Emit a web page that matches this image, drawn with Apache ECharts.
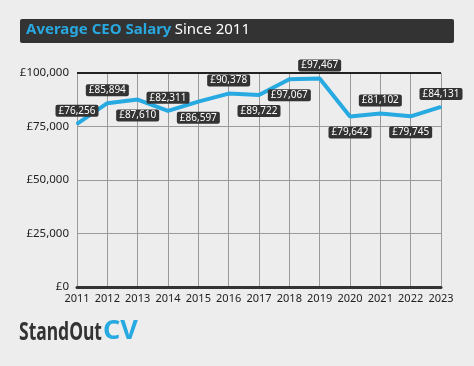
<!DOCTYPE html>
<html><head><meta charset="utf-8">
<script src="https://cdn.jsdelivr.net/npm/echarts@6/dist/echarts.min.js"></script>
<style>html,body{margin:0;padding:0;background:#ededed;}#c{width:474px;height:366px;}</style>
</head><body><div id="c"></div>
<script>
const years = ['2011','2012','2013','2014','2015','2016','2017','2018','2019','2020','2021','2022','2023'];
const salaries = [76256, 85894, 87610, 82311, 86597, 90378, 89722, 97067, 97467, 79642, 81102, 79745, 84131];
const labelSide = ['top','top','bottom','top','bottom','top','bottom','bottom','top','bottom','top','bottom','top'];
const yTicks = [0, 25000, 50000, 75000, 100000];

const FONT = '"Noto Sans", "Open Sans", sans-serif';
const fmt = v => '£' + v.toLocaleString('en-GB');

const chart = echarts.init(document.getElementById('c'), null, {renderer: 'canvas'});
chart.setOption({
  backgroundColor: '#ededed',
  animation: false,
  grid: {left: 77, right: 33, top: 73, bottom: 79},
  xAxis: {
    type: 'category', data: years, boundaryGap: false,
    axisLine: {lineStyle: {color: '#333', width: 3}},
    axisTick: {show: false},
    axisLabel: {color: '#222', fontFamily: FONT, fontSize: 11, margin: 6, interval: 0},
    splitLine: {show: true, interval: 0, lineStyle: {color: '#9a9a9a', width: 1}}
  },
  yAxis: {
    type: 'value', min: yTicks[0], max: yTicks[yTicks.length - 1], interval: 25000,
    axisLine: {show: true, lineStyle: {color: '#9a9a9a', width: 1}},
    axisTick: {show: false},
    axisLabel: {color: '#222', fontFamily: FONT, fontSize: 11.5, margin: 8, formatter: v => fmt(v)},
    splitLine: {show: true, lineStyle: {color: '#9a9a9a', width: 1}}
  },
  series: [{
    type: 'line',
    data: salaries.map((v, i) => ({value: v, label: {show: true, position: labelSide[i], distance: labelSide[i] === 'top' ? 6 : 9}})),
    symbol: 'circle', symbolSize: 2, showSymbol: true,
    itemStyle: {color: '#27a9e1'},
    lineStyle: {color: '#27a9e1', width: 4},
    label: {
      show: true, formatter: p => fmt(p.value),
      color: '#fff', fontFamily: FONT, fontSize: 10,
      backgroundColor: '#333', padding: [1, 3, 1, 3], borderRadius: 2
    },
    labelLayout: {hideOverlap: false},
    markLine: {
      silent: true, symbol: 'none', label: {show: false},
      lineStyle: {color: '#222', width: 2, type: 'solid'},
      data: [{yAxis: yTicks[yTicks.length - 1]}]
    },
    z: 5
  }],
  graphic: [
    {type: 'rect', left: 20, top: 19, shape: {width: 434, height: 24, r: 2}, style: {fill: '#333'}},
    {type: 'text', left: 26, top: 22, style: {
      rich: {
        a: {fill: '#29a8e0', fontWeight: 'bold', fontSize: 15, fontFamily: FONT},
        b: {fill: '#fff', fontSize: 15, fontFamily: FONT}
      },
      text: '{a|Average CEO Salary} {b|Since 2011}'
    }},
    {type: 'text', x: 19, y: 320, scaleX: 0.7, originX: 0,
      style: {text: 'StandOut', fill: '#333', font: 'bold 25px "Noto Sans", sans-serif'}},
    {type: 'text', x: 103, y: 318,
      style: {text: 'CV', fill: '#27a9e1', font: 'bold 27px "Noto Sans", sans-serif'}}
  ]
});
</script></body></html>
